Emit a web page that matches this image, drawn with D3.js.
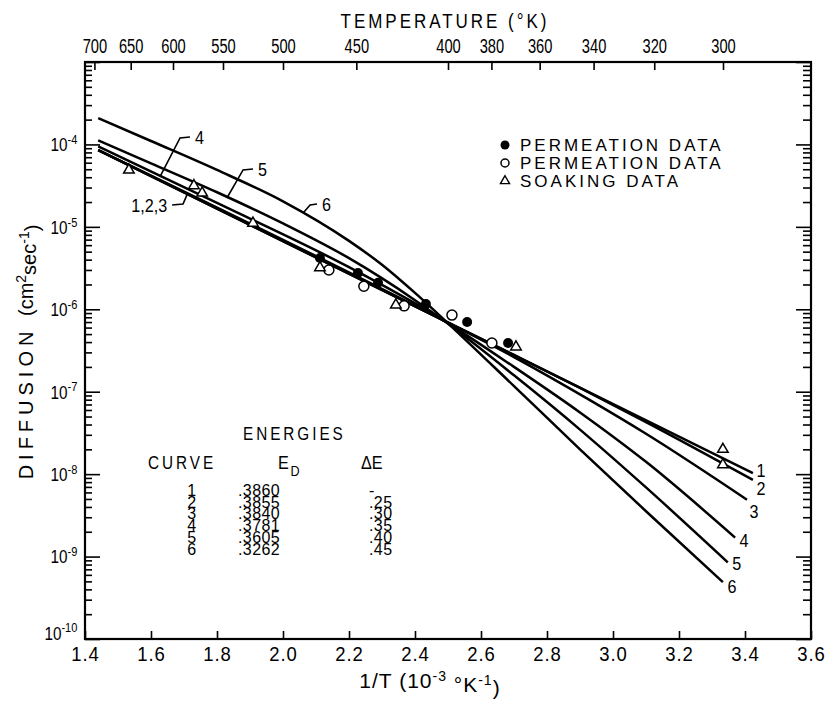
<!DOCTYPE html>
<html>
<head>
<meta charset="utf-8">
<script src="https://d3js.org/d3.v7.min.js"></script>
<style>
  body { margin: 0; background: #fff; }
  svg { display: block; }
</style>
</head>
<body>
<div id="chart"></div>
<script>
// curves: [1/T (10^-3 K^-1), diffusion (cm2/sec)]
const curve1 = [[1.44, 8.55e-5], [2.485, 7.4e-7], [3.424, 1.03e-8]];
const curve2 = [[1.44, 8.55e-5], [2.485, 7.4e-7], [2.7, 2.79e-7], [2.9, 1.11e-7], [3.1, 4.27e-8], [3.424, 8.5e-9]];
const curve3 = [[1.44, 8.55e-5], [2.485, 7.4e-7], [2.7, 2.63e-7], [2.93, 7.9e-8], [3.1, 3.09e-8], [3.406, 4.9e-9]];
const curve4 = [[1.44, 9.5e-5], [1.8, 1.95e-5], [2.2, 3.24e-6], [2.485, 7.4e-7], [2.7, 2.0e-7], [2.9, 5.6e-8], [3.1, 1.41e-8], [3.37, 1.7e-9]];
const curve5 = [[1.44, 1.12e-4], [1.6, 5.9e-5], [1.8, 2.63e-5], [2.0, 1.10e-5], [2.2, 4.17e-6], [2.4, 1.29e-6], [2.485, 7.4e-7],
                [2.7, 1.58e-7], [2.9, 3.47e-8], [3.1, 6.9e-9], [3.348, 8.5e-10]];
const curve6 = [[1.44, 2.09e-4], [1.6, 1.10e-4], [1.8, 4.9e-5], [2.0, 2.04e-5], [2.2, 6.76e-6], [2.3, 3.47e-6], [2.4, 1.58e-6],
                [2.5, 6.76e-7], [2.7, 1.17e-7], [2.9, 2.0e-8], [3.1, 3.55e-9], [3.333, 4.9e-10]];
const curves = [curve1, curve2, curve3, curve4, curve5, curve6];
const curveNames = ["1", "2", "3", "4", "5", "6"];

// data points
const permeationFilled = [[2.112, 4.2e-6], [2.227, 2.75e-6], [2.288, 2.1e-6], [2.433, 1.16e-6], [2.558, 7.0e-7], [2.682, 3.9e-7]];
const permeationOpen = [[2.139, 3.0e-6], [2.245, 1.9e-6], [2.367, 1.1e-6], [2.512, 8.5e-7], [2.633, 3.9e-7]];
const soaking = [[1.533, 4.9e-5], [1.730, 3.16e-5], [1.755, 2.57e-5], [1.909, 1.11e-5], [2.112, 3.2e-6],
                 [2.342, 1.13e-6], [2.706, 3.5e-7], [3.333, 2.0e-8], [3.333, 1.3e-8]];

// ticks
const bottomTicks = [1.4, 1.6, 1.8, 2.0, 2.2, 2.4, 2.6, 2.8, 3.0, 3.2, 3.4, 3.6];
const temperatures = [700, 650, 600, 550, 500, 450, 400, 380, 360, 340, 320, 300];
const decades = [-10, -9, -8, -7, -6, -5, -4, -3];
const labelledDecades = [-10, -9, -8, -7, -6, -5, -4];

// energies table
const tableCurves = ["1", "2", "3", "4", "5", "6"];
const energyED = [".3860", ".3855", ".3840", ".3781", ".3605", ".3262"];
const energyDE = ["-", ".25", ".30", ".35", ".40", ".45"];

// leader lines for the curve labels on the left (data coords)
const leader4 = [[1.627, 4.03e-5], [1.688, 1.2e-4], [1.718, 1.23e-4]];
const leader5 = [[1.830, 2.24e-5], [1.879, 4.9e-5], [1.909, 5.04e-5]];
const leader6 = [[2.061, 1.47e-5], [2.082, 1.84e-5], [2.103, 1.89e-5]];
const leader123 = [[1.709, 2.44e-5], [1.697, 1.89e-5], [1.664, 1.84e-5]];

// set the dimensions and margins of the graph
var margin = {top: 62, right: 16, bottom: 63, left: 85},
    width = 827 - margin.left - margin.right,
    height = 702 - margin.top - margin.bottom;

var font = '"Liberation Sans", Arial, sans-serif';

var root = d3.select("#chart")
  .append("svg")
  .attr("width", 827)
  .attr("height", 702)
  .style("font-family", font);

var svg = root.append("g")
  .attr("transform", `translate(${margin.left},${margin.top})`);

// condensed text: a text squeezed horizontally inside its own group
function ntext(parent, px, py, sx) {
  return parent.append("g")
    .attr("transform", `translate(${px},${py}) scale(${sx},1)`)
    .append("text");
}

let x = d3.scaleLinear().domain([1.4, 3.6]).range([0, width]);
let y = d3.scaleLog().domain([1e-10, 1e-3]).range([height, 0]);

let majorValues = decades.map(e => Math.pow(10, e));
let minorValues = [];
decades.slice(0, -1).forEach(e => {
  for (let m = 2; m <= 9; m++) minorValues.push(m * Math.pow(10, e));
});

// bottom axis
svg.append("g")
  .attr("class", "axis")
  .attr("transform", `translate(0,${height})`)
  .call(d3.axisBottom(x).tickValues(bottomTicks).tickFormat(d3.format(".1f")).tickSize(-8).tickPadding(7))
  .selectAll("text")
  .style("font-size", "21px")
  .style("letter-spacing", "1px")
  .attr("transform", "scale(0.88,1)");

// top axis (temperature)
svg.append("g")
  .attr("class", "axis")
  .call(d3.axisTop(x).tickValues(temperatures.map(t => 1000 / t)).tickFormat((d, i) => temperatures[i]).tickSize(-8).tickPadding(9))
  .selectAll("text")
  .style("font-size", "21px")
  .attr("transform", "scale(0.7,1)");

// left axis, minor then major
svg.append("g")
  .attr("class", "axis")
  .call(d3.axisLeft(y).tickValues(minorValues).tickFormat("").tickSize(-7));

let leftMajor = svg.append("g")
  .attr("class", "axis")
  .call(d3.axisLeft(y).tickValues(majorValues).tickFormat("").tickSize(-15).tickPadding(9));

leftMajor.selectAll(".tick text")
  .each(function(d) {
    let e = Math.round(Math.log10(d));
    if (labelledDecades.indexOf(e) < 0) return;
    let t = d3.select(this)
      .style("font-size", "18px")
      .attr("transform", "scale(0.85,1)")
      .attr("dy", e === -10 ? "0em" : "0.35em");
    t.append("tspan").text("10");
    t.append("tspan").attr("dy", "-0.55em").style("font-size", "13px").text("-" + (-e));
  });

// right axis
svg.append("g")
  .attr("class", "axis")
  .attr("transform", `translate(${width},0)`)
  .call(d3.axisRight(y).tickValues(minorValues).tickFormat("").tickSize(-8));
svg.append("g")
  .attr("class", "axis")
  .attr("transform", `translate(${width},0)`)
  .call(d3.axisRight(y).tickValues(majorValues).tickFormat("").tickSize(-15));

svg.selectAll(".axis .domain").remove();
svg.selectAll(".axis line").attr("stroke", "#000").attr("stroke-width", 1.6);
svg.selectAll(".axis text").attr("fill", "#000").style("font-family", font);

// frame
svg.append("rect")
  .attr("width", width)
  .attr("height", height)
  .attr("fill", "none")
  .attr("stroke", "#000")
  .attr("stroke-width", 2.2);

// curves
let line = d3.line()
  .x(d => x(d[0]))
  .y(d => y(d[1]))
  .curve(d3.curveMonotoneX);

svg.selectAll(".curve")
  .data(curves)
  .enter().append("path")
  .attr("class", "curve")
  .attr("d", line)
  .attr("fill", "none")
  .attr("stroke", "#000")
  .attr("stroke-width", 2.5);

// labels at the right end of each curve
const endOffsets = [[8, 4], [8, 15], [7, 18], [9, 9], [9, 8], [9, 11]];
curves.forEach((c, i) => {
  let p = c[c.length - 1];
  ntext(svg, x(p[0]) + endOffsets[i][0], y(p[1]) + endOffsets[i][1], 0.85)
    .attr("text-anchor", "middle")
    .style("font-size", "19px")
    .text(curveNames[i]);
});

// leaders on the left
let leaderLine = d3.line().x(d => x(d[0])).y(d => y(d[1]));
[leader4, leader5, leader6, leader123].forEach(l => {
  svg.append("path")
    .attr("d", leaderLine(l))
    .attr("fill", "none")
    .attr("stroke", "#000")
    .attr("stroke-width", 1.6);
});
[[leader4, "4", "start"], [leader5, "5", "start"], [leader6, "6", "start"], [leader123, "1,2,3", "end"]].forEach(l => {
  let p = l[0][l[0].length - 1];
  ntext(svg, x(p[0]) + (l[2] === "start" ? 5 : -5), y(p[1]) + 7, 0.85)
    .attr("text-anchor", l[2])
    .style("font-size", "19px")
    .text(l[1]);
});

// data markers
svg.selectAll(".filled")
  .data(permeationFilled)
  .enter().append("circle")
  .attr("cx", d => x(d[0]))
  .attr("cy", d => y(d[1]))
  .attr("r", 5)
  .attr("fill", "#000");

svg.selectAll(".open")
  .data(permeationOpen)
  .enter().append("circle")
  .attr("cx", d => x(d[0]))
  .attr("cy", d => y(d[1]))
  .attr("r", 5)
  .attr("fill", "#fff")
  .attr("stroke", "#000")
  .attr("stroke-width", 1.5);

let tri = d3.symbol().type(d3.symbolTriangle).size(48);
svg.selectAll(".soak")
  .data(soaking)
  .enter().append("path")
  .attr("d", tri)
  .attr("transform", d => `translate(${x(d[0])},${y(d[1])})`)
  .attr("fill", "#fff")
  .attr("stroke", "#000")
  .attr("stroke-width", 1.5);

// legend
let legend = root.append("g").attr("transform", "translate(505,145)");
const legendNames = ["PERMEATION DATA", "PERMEATION DATA", "SOAKING DATA"];
legendNames.forEach((name, i) => {
  let g = legend.append("g").attr("transform", `translate(0,${i * 18})`);
  if (i === 0) g.append("circle").attr("r", 4.5).attr("fill", "#000");
  if (i === 1) g.append("circle").attr("r", 4).attr("fill", "#fff").attr("stroke", "#000").attr("stroke-width", 1.5);
  if (i === 2) g.append("path").attr("d", d3.symbol().type(d3.symbolTriangle).size(36)).attr("fill", "#fff").attr("stroke", "#000").attr("stroke-width", 1.4);
  g.append("text")
    .attr("x", 15)
    .attr("y", 6)
    .style("font-size", "17px")
    .style("letter-spacing", "3px")
    .text(name);
});

// energies table
ntext(root, 243, 440, 0.85).style("font-size", "18px").style("letter-spacing", "3.5px").text("ENERGIES");
ntext(root, 148, 469, 0.85).style("font-size", "18px").style("letter-spacing", "3.5px").text("CURVE");
let ed = ntext(root, 278, 469, 0.9).style("font-size", "18px");
ed.append("tspan").text("E");
ed.append("tspan").attr("dx", "2").attr("dy", "0.5em").style("font-size", "14px").text("D");
ntext(root, 361, 469, 0.9).style("font-size", "18px").text("\u0394E");

// one text per column, rows as tspans
function column(px, anchor, values) {
  let t = root.append("text")
    .attr("x", px)
    .attr("y", 496)
    .attr("text-anchor", anchor)
    .style("font-size", "16px")
    .style("letter-spacing", "0.4px");
  values.forEach((v, i) => {
    t.append("tspan").attr("x", px).attr("dy", i === 0 ? 0 : 11.7).text(v);
  });
}
column(192, "middle", tableCurves);
column(238, "start", energyED);
column(369, "start", energyDE);

// axis titles
ntext(root, 445, 28, 0.85)
  .attr("text-anchor", "middle")
  .style("font-size", "20px")
  .style("letter-spacing", "3.5px")
  .text("TEMPERATURE (\u00B0K)");

let xt = root.append("text")
  .attr("x", 430)
  .attr("y", 688)
  .attr("text-anchor", "middle")
  .style("font-size", "21px")
  .style("letter-spacing", "1px");
xt.append("tspan").text("1/T (10");
xt.append("tspan").attr("dy", "-0.5em").style("font-size", "14px").text("-3");
xt.append("tspan").attr("dy", "0.5em").text("  \u00B0K");
xt.append("tspan").attr("dy", "-0.5em").style("font-size", "14px").text("-1");
xt.append("tspan").attr("dy", "0.5em").text(")");

let yt = root.append("text")
  .attr("transform", "translate(33,352) rotate(-90)")
  .attr("text-anchor", "middle")
  .style("font-size", "20px");
yt.append("tspan").style("letter-spacing", "5px").text("DIFFUSION ");
yt.append("tspan").text("(cm");
yt.append("tspan").attr("dy", "-0.5em").style("font-size", "14px").text("2");
yt.append("tspan").attr("dy", "0.5em").text("sec");
yt.append("tspan").attr("dy", "-0.5em").style("font-size", "14px").text("-1");
yt.append("tspan").attr("dy", "0.5em").text(")");
</script>
</body>
</html>
